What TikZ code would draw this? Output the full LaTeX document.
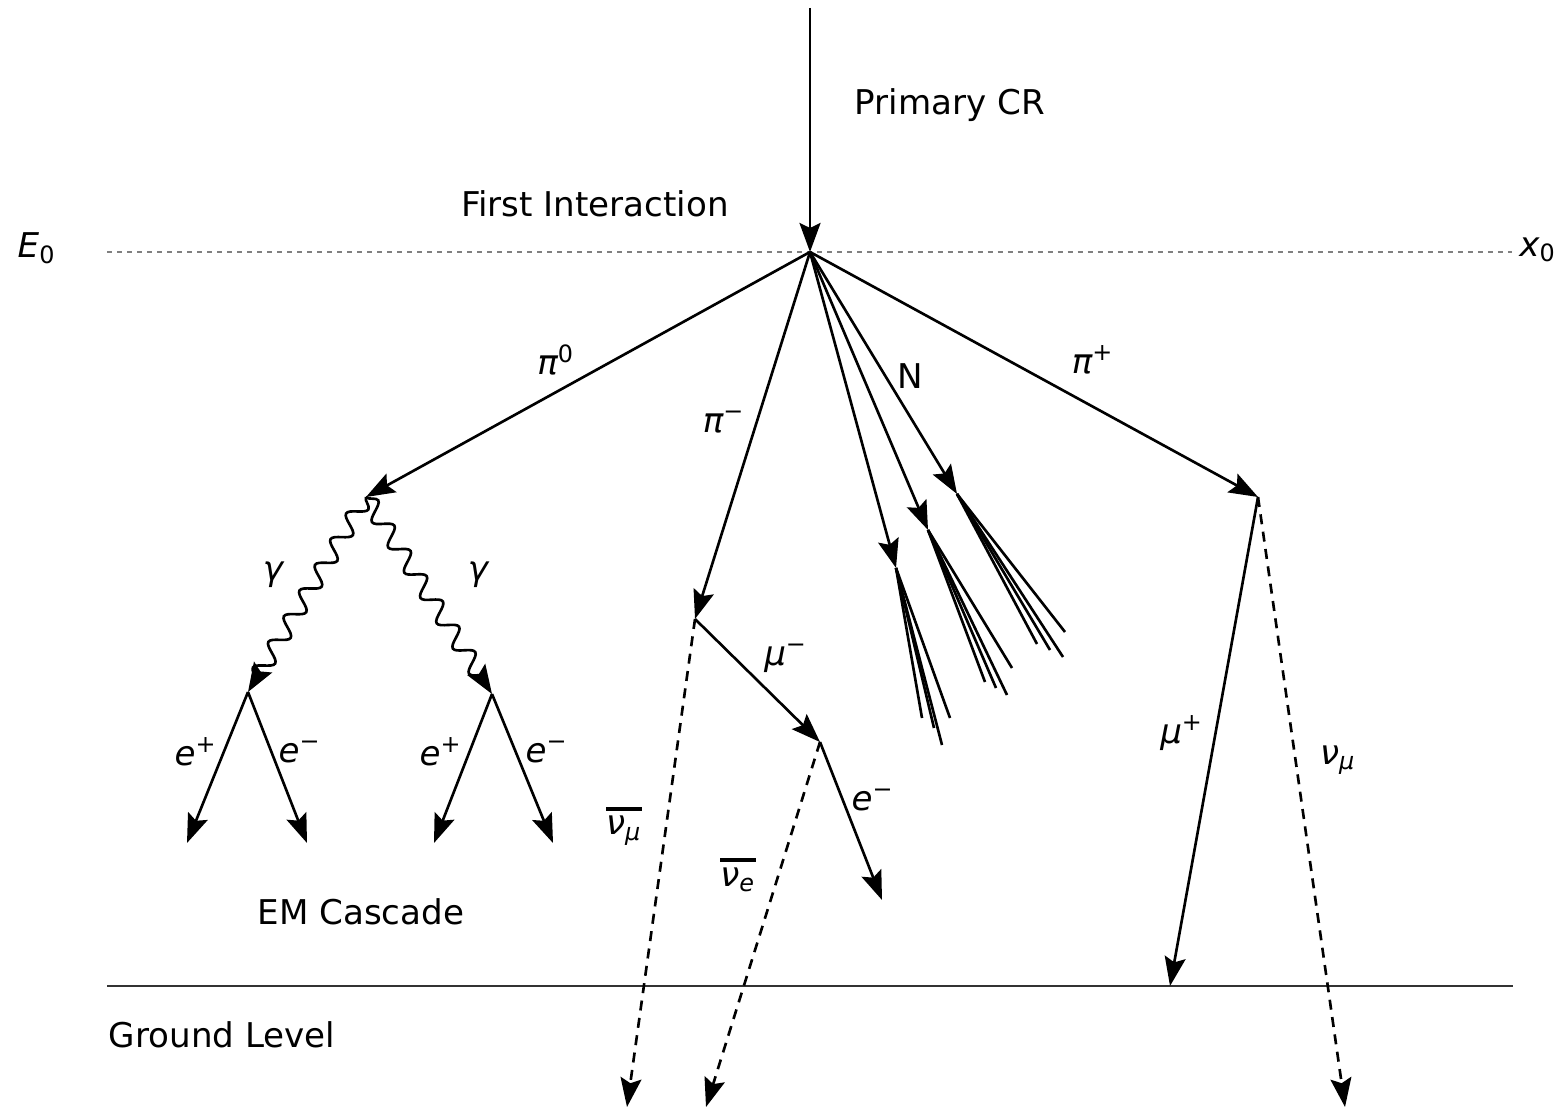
\documentclass[tikz,border=0pt]{standalone}
\usepackage{fontspec}
\setmainfont{DejaVu Sans}
\usepackage{tikz}
\usetikzlibrary{arrows.meta,decorations.pathmorphing}

\newcommand{\pt}[1]{{\itshape #1}}
\newcommand{\nubar}[1]{\vbox{\hrule height 1.1pt\kern 1.6pt\hbox{\itshape ν\textsubscript{#1}}}}

\begin{document}
\begin{tikzpicture}[x=0.01cm,y=-0.01cm,font=\fontsize{9.7}{12}\selectfont,
    particle/.style={line width=0.75pt,-{Stealth[length=0.29cm,width=0.21cm,inset=0.05cm]}},
    neutrino/.style={particle,dash pattern=on 0.1cm off 0.075cm},
    photon/.style={particle,decorate,decoration={snake,amplitude=0.085cm,segment length=0.3cm,post length=0.12cm}},
    jet/.style={line width=0.75pt}]
    \useasboundingbox (0,0) rectangle (1558,1116);

    % levels
    \draw[gray,dash pattern=on 0.05cm off 0.05cm,line width=0.5pt] (107,252) -- (1512,252);
    \draw[black!80,line width=0.8pt] (107,986) -- (1513,986);
    \node (e0) at (37,248) {\pt{E}\textsubscript{0}};
    \node (x0) at (1538,250) {\pt{x}\textsubscript{0}};

    % vertices
    \coordinate (cr) at (810,8);
    \coordinate (v) at (810,252);
    \coordinate (pz) at (366,497);
    \coordinate (ga) at (248,692);
    \coordinate (gb) at (492,694);
    \coordinate (pm) at (695,619);
    \coordinate (mm) at (820,742);
    \coordinate (pp) at (1258,497);
    \coordinate (j1) at (896,568);
    \coordinate (j2) at (928,530);
    \coordinate (j3) at (957,494);

    \draw[particle] (cr) -- (v);
    \node (prim) at (950,105) {Primary CR};
    \node (first) at (595,204) {First Interaction};

    % pions and nucleons
    \draw[particle] (v) -- (pz);
    \draw[particle] (v) -- (pm);
    \draw[particle] (v) -- (pp);
    \foreach \j in {j1,j2,j3}
    {\draw[particle] (v) -- (\j);}
    \node (lpz) at (556,360) {\pt{π}\textsuperscript{0}};
    \node (lpm) at (724,422) {\pt{π}\textsuperscript{−}};
    \node (lnn) at (910,376) {N};
    \node (lpp) at (1093,360) {\pt{π}\textsuperscript{+}};

    % nucleon jets
    \foreach \x/\y in {922/718,934/728,942/745,950/718}
    {\draw[jet] (j1) -- (\x,\y);}
    \foreach \x/\y in {985/682,996/688,1007/695,1012/668}
    {\draw[jet] (j2) -- (\x,\y);}
    \foreach \x/\y in {1037/644,1050/650,1063/657,1065/632}
    {\draw[jet] (j3) -- (\x,\y);}

    % EM cascade
    \draw[photon] (pz) -- (ga);
    \draw[photon] (pz) -- (gb);
    \node (lga) at (273,575) {\pt{γ}};
    \node (lgb) at (478,575) {\pt{γ}};
    \coordinate (ea) at (187,843);
    \coordinate (eb) at (307,843);
    \coordinate (ec) at (434,843);
    \coordinate (ed) at (553,843);
    \draw[particle] (ga) -- (ea);
    \draw[particle] (ga) -- (eb);
    \draw[particle] (gb) -- (ec);
    \draw[particle] (gb) -- (ed);
    \node (lea) at (196,752) {\pt{e}\textsuperscript{+}};
    \node (leb) at (300,752) {\pt{e}\textsuperscript{−}};
    \node (lec) at (441,752) {\pt{e}\textsuperscript{+}};
    \node (led) at (547,752) {\pt{e}\textsuperscript{−}};
    \node (em) at (361,912) {EM Cascade};

    % pi- decay
    \coordinate (nm) at (627,1107);
    \coordinate (ne) at (706,1107);
    \coordinate (el) at (882,900);
    \draw[particle] (pm) -- (mm);
    \draw[neutrino] (pm) -- (nm);
    \draw[particle] (mm) -- (el);
    \draw[neutrino] (mm) -- (ne);
    \node (lmm) at (786,658) {\pt{μ}\textsuperscript{−}};
    \node (lnm) at (624,826) {\nubar{μ}};
    \node (lne) at (738,875) {\nubar{e}};
    \node (lel) at (873,800) {\pt{e}\textsuperscript{−}};

    % pi+ decay
    \coordinate (mp) at (1170,986);
    \coordinate (np) at (1345,1107);
    \draw[particle] (pp) -- (mp);
    \draw[neutrino] (pp) -- (np);
    \node (lmp) at (1182,733) {\pt{μ}\textsuperscript{+}};
    \node (lnp) at (1338,760) {\pt{ν}\textsubscript{\pt{μ}}};

    \node (ground) at (222,1035) {Ground Level};
\end{tikzpicture}
\end{document}
